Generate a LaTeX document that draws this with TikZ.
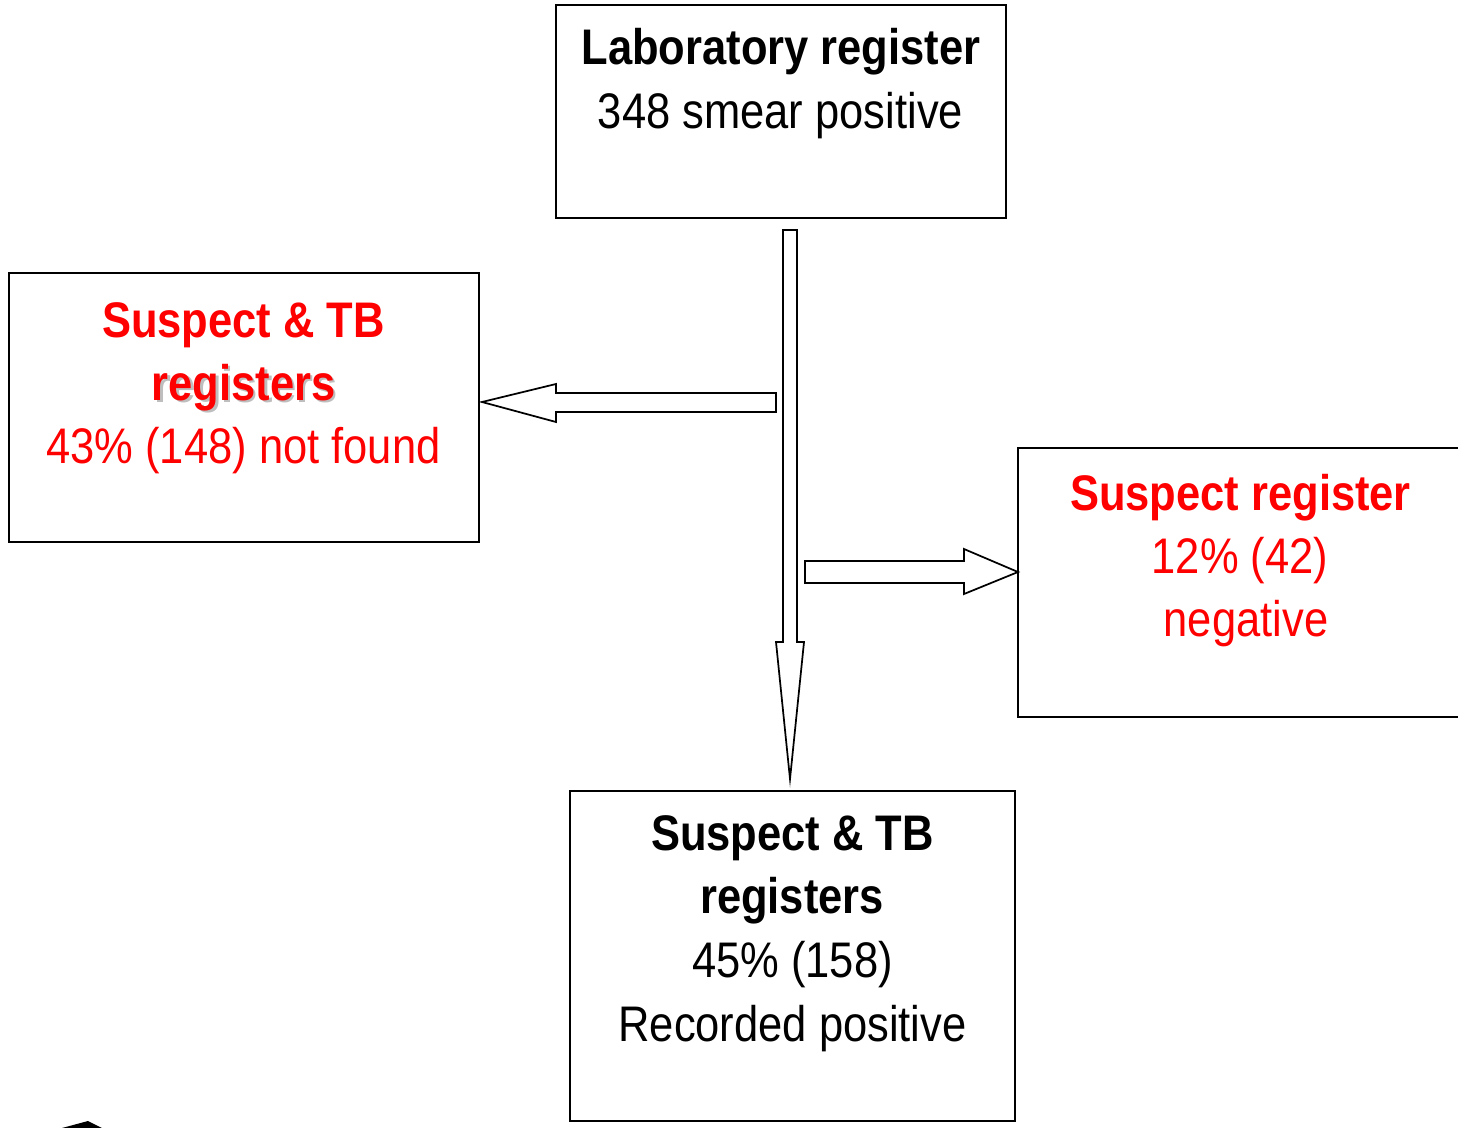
\documentclass[tikz,border=0pt]{standalone}
\usepackage{fontspec}
\setmainfont{Liberation Sans}[FakeStretch=0.87]
\begin{document}
\begin{tikzpicture}[x=0.75pt,y=-0.75pt,
  box/.style={draw=black,line width=1.5pt,rectangle,inner sep=0pt},
  txt/.style={anchor=base,inner sep=0pt,font=\fontsize{37.5pt}{45pt}\selectfont},
  redtxt/.style={txt,text={rgb,255:red,255;green,0;blue,0}},
  blockarrow/.style={draw=black,line width=1.3pt,fill=white,line join=miter}]
\useasboundingbox (0,0) rectangle (1458,1127);
% boxes
\node[box,minimum width=337.5pt,minimum height=159.75pt] (lab) at (781,111.5) {};
\node[box,minimum width=352.5pt,minimum height=201.75pt] (left) at (244,407.5) {};
\node[box,minimum width=345pt,minimum height=201.75pt] (right) at (1248,582.5) {};
\node[box,minimum width=333.75pt,minimum height=247.5pt] (bottom) at (792.5,956) {};
% texts
\node[txt] (lab1) at (781,65) {\bfseries Laboratory register};
\node[txt] (lab2) at (780.5,128) {348 smear positive};
\node[redtxt] (left1) at (243.5,337) {\bfseries Suspect \& TB};
\node[txt,text={rgb,255:red,190;green,190;blue,190}] (left2s) at (246,402.5) {\bfseries registers};
\node[redtxt] (left2) at (243.5,400) {\bfseries registers};
\node[redtxt] (left3) at (243.5,463) {43\% (148) not found};
\node[redtxt] (right1) at (1240.5,510) {\bfseries Suspect register};
\node[redtxt] (right2) at (1240,573) {12\% (42)};
\node[redtxt] (right3) at (1246,636) {negative};
\node[txt] (bot1) at (792.5,850) {\bfseries Suspect \& TB};
\node[txt] (bot2) at (792,913) {\bfseries registers};
\node[txt] (bot3) at (792.5,977) {45\% (158)};
\node[txt] (bot4) at (792.5,1041) {Recorded positive};
% block arrows
\draw[blockarrow] (776,393) -- (556,393) -- (556,384) -- (482,402) -- (556,422) -- (556,412) -- (776,412) -- cycle;
\draw[blockarrow] (805,561) -- (964,561) -- (964,549) -- (1018,572) -- (964,594) -- (964,583) -- (805,583) -- cycle;
\draw[blockarrow] (783,230) -- (797,230) -- (797,642) -- (804,642) -- (790,779) -- (776,642) -- (783,642) -- cycle;
% stray mark at bottom left
\fill[black] (62,1128) -- (88,1121) -- (102,1128) -- cycle;
\end{tikzpicture}
\end{document}
